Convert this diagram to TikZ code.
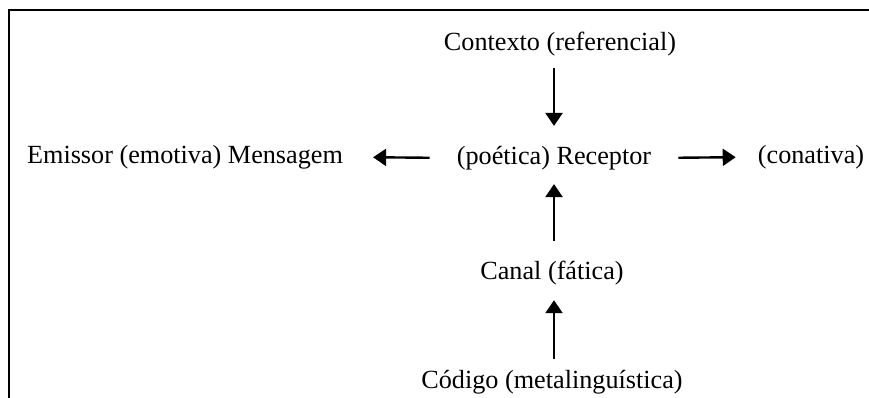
\documentclass[tikz,border=0pt]{standalone}
\usepackage{fontspec}
\setmainfont{Liberation Serif}
\usetikzlibrary{arrows.meta, positioning}

\begin{document}
\begin{tikzpicture}[x=1pt, y=-1pt,
    func/.style={inner sep=0pt, font=\fontsize{26.2}{30}\selectfont},
    seta/.style={line width=2.4pt, -{Triangle[width=17pt,length=13pt]}}]
    \useasboundingbox (0,0) rectangle (869,398);
    % moldura
    \draw[line width=1.5pt] (9,398) -- (9,10) -- (869,10);

    \node[func] (receptor) at (554,158) {(poética) Receptor};
    \node[func] (contexto) at (560,44) {Contexto (referencial)};
    \node[func] (emissor) at (185,157) {Emissor (emotiva) Mensagem};
    \node[func] (conativa) at (811,157) {(conativa)};
    \node[func] (canal) at (552,273) {Canal (fática)};
    \node[func] (codigo) at (552,382) {Código (metalinguística)};

    \draw[seta, shorten <=12pt, shorten >=20pt] (contexto.south -| receptor) -- (receptor.north);
    \draw[seta, shorten <=27pt, shorten >=30pt] (receptor.west) -- (emissor.east);
    \draw[seta, shorten <=27pt, shorten >=22pt] (receptor.east) -- (conativa.west);
    \draw[seta, shorten <=20pt, shorten >=14pt] (canal.north -| receptor) -- (receptor.south);
    \draw[seta, shorten <=11pt, shorten >=15pt] (codigo.north -| receptor) -- (canal.south -| receptor);
\end{tikzpicture}
\end{document}
